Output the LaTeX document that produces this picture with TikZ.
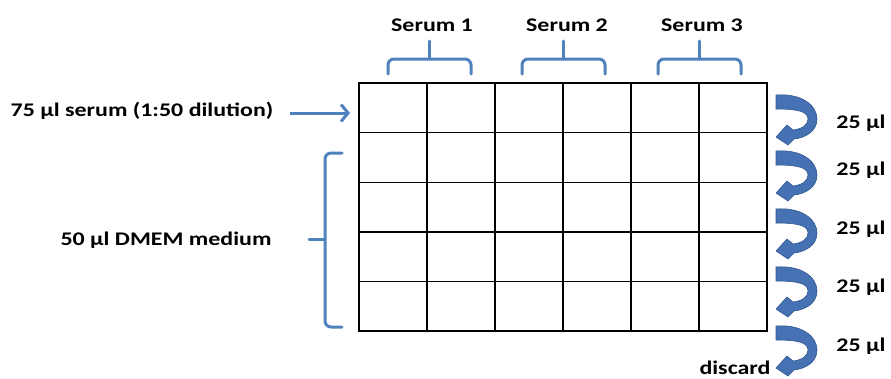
\documentclass[tikz,border=0pt]{standalone}
\usepackage{fontspec}
\setmainfont{Carlito}[FakeStretch=1.24]
\usetikzlibrary{arrows.meta}
\definecolor{braceblue}{RGB}{79,129,189}
\definecolor{arrowblue}{RGB}{70,114,180}
\definecolor{arrowedge}{RGB}{47,85,145}
\begin{document}
\begin{tikzpicture}[x=1pt,y=-1pt,
  lbl/.style={font=\fontsize{19.3}{22}\selectfont\bfseries, inner sep=0pt},
  gridline/.style={line width=1.4pt, black},
  bracestyle/.style={draw=braceblue, line width=3pt, rounded corners=6pt, line cap=round},
  curl/.pic={\fill[arrowblue, draw=arrowedge, line width=0.6pt] (0,0) .. controls (25,-2) and (41,10) .. (41,24) .. controls (41,37) and (28,43) .. (18,44) -- (12,50) -- (0,42) -- (11,30) -- (17,35) .. controls (26,34) and (32,30) .. (32,24) .. controls (32,16) and (20,14) .. (0,14) -- cycle;}
]
\useasboundingbox (0,0) rectangle (891,378);
% plate
\node[draw, gridline, minimum width=408pt, minimum height=248pt, inner sep=0pt] (plate) at (563,207) {};
\foreach \i in {1,...,5} \draw[gridline] ({359+68*\i},83) -- ({359+68*\i},331);
\foreach \j in {1,...,4} \draw[gridline] (359,{83+49.6*\j}) -- (767,{83+49.6*\j});
% serum labels and braces
\node[lbl] (s1) at (432,25) {Serum 1};
\node[lbl] (s2) at (567,25) {Serum 2};
\node[lbl] (s3) at (702,25) {Serum 3};
\foreach \c in {429.5,563.5,699.5}{
  \draw[bracestyle] ({\c-41.5},74) -- ({\c-41.5},59) -- ({\c+41.5},59) -- ({\c+41.5},74);
  \draw[bracestyle] (\c,59) -- (\c,41);
}
% left texts
\node[lbl] (serum) at (142,111) {75 µl serum (1:50 dilution)};
\node[lbl] (dmem) at (166,240) {50 µl DMEM medium};
\coordinate (aS) at (290,113);
\coordinate (aE) at (350,113);
\draw[braceblue, line width=3pt, -{Straight Barb[length=7pt,width=17pt]}] (aS) -- (aE);
\draw[bracestyle] (342,153) -- (325,153) -- (325,327) -- (342,327);
\draw[bracestyle] (325,239) -- (309,239);
% dilution arrows
\foreach \y in {95,151,209,267,326} \pic at (776,\y) {curl};
\node[lbl] (d1) at (861,123) {25 µl};
\node[lbl] (d2) at (861,170) {25 µl};
\node[lbl] (d3) at (861,229) {25 µl};
\node[lbl] (d4) at (861,287) {25 µl};
\node[lbl] (d5) at (861,346) {25 µl};
\node[lbl] (disc) at (735,368) {discard};
\end{tikzpicture}
\end{document}
